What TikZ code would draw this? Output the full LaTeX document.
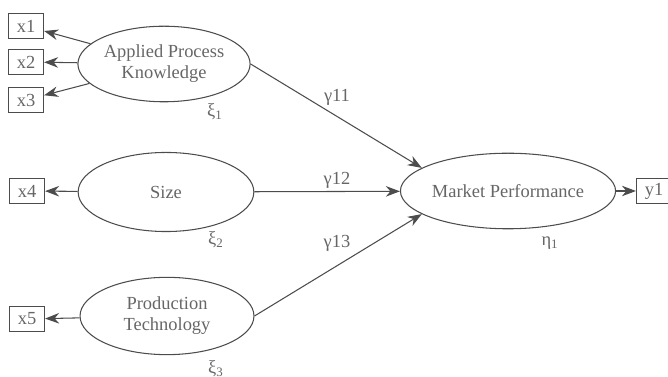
\documentclass[tikz,border=0pt]{standalone}
\usepackage{fontspec}
\setmainfont{Liberation Serif}
\usetikzlibrary{shapes.geometric,arrows.meta}

\begin{document}
\begin{tikzpicture}[x=0.02cm,y=-0.02cm,
  font=\fontsize{10.5}{12}\selectfont,
  latent/.style={ellipse,draw=black!70,line width=0.6pt,text=black!60,align=center,
    minimum width=98pt,minimum height=43pt,inner sep=0pt},
  indicator/.style={rectangle,draw=black!70,line width=0.6pt,text=black!60,
    minimum width=20pt,minimum height=14.5pt,inner sep=1pt},
  path/.style={draw=black!70,line width=0.6pt,-{Stealth[length=8pt,width=6pt]}},
  coef/.style={text=black!60}]
\useasboundingbox (0,0) rectangle (668,377);

% latent variables
\node[latent] (apk) at (164,64) {Applied Process\\Knowledge};
\node[latent,minimum width=100pt,minimum height=45pt] (size) at (166,192) {Size};
\node[latent,minimum width=99pt,minimum height=44pt] (prod) at (167,316) {Production\\Technology};
\node[latent,minimum width=101pt] (mp) at (508,191) {Market Performance};

% indicators
\node[indicator] (x1) at (26,26) {x1};
\node[indicator] (x2) at (26,62) {x2};
\node[indicator] (x3) at (26,100) {x3};
\node[indicator] (x4) at (27,191) {x4};
\node[indicator] (x5) at (27,319) {x5};
\node[indicator] (y1) at (654,191) {y1};

\draw[path] (apk) -- (x1);
\draw[path] (apk) -- (x2);
\draw[path] (apk) -- (x3);
\draw[path] (size) -- (x4);
\draw[path] (prod) -- (x5);
\draw[path] (mp) -- (y1);

\draw[path] (apk.east) -- (mp.165);
\draw[path] (size) -- (mp);
\draw[path] (prod.east) -- (mp.195);

\node[coef] (g11) at (337,97) {γ11};
\node[coef] (g12) at (337,180) {γ12};
\node[coef] (g13) at (337,243) {γ13};

\node[coef] (xi1) at (215,112) {ξ\textsubscript{1}};
\node[coef] (xi2) at (216,240) {ξ\textsubscript{2}};
\node[coef] (xi3) at (216,369) {ξ\textsubscript{3}};
\node[coef] (eta1) at (550,243) {η\textsubscript{1}};
\end{tikzpicture}
\end{document}
